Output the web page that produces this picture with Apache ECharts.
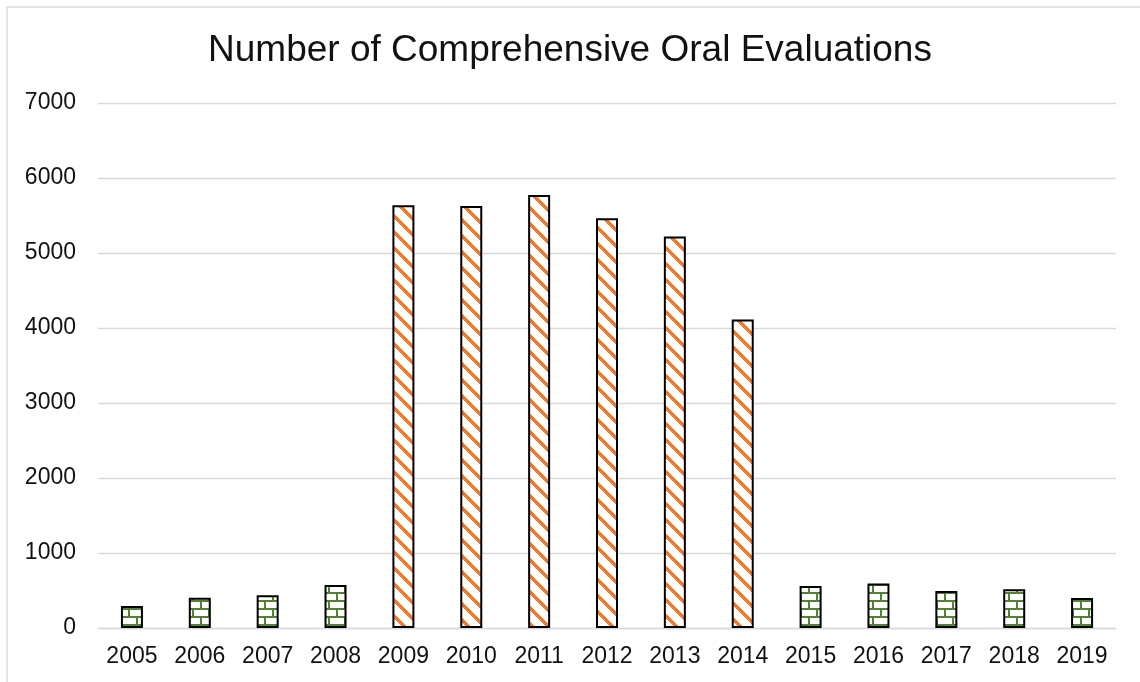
<!DOCTYPE html>
<html>
<head>
<meta charset="utf-8">
<script src="https://cdn.jsdelivr.net/npm/echarts@6/dist/echarts.min.js"></script>
<style>
html,body{margin:0;padding:0;background:#fff;}
#chart{width:1140px;height:682px;}
</style>
</head>
<body>
<div id="chart"></div>
<script>
var years = ['2005','2006','2007','2008','2009','2010','2011','2012','2013','2014','2015','2016','2017','2018','2019'];
var greenValues = [295, 405, 436, 573, '-', '-', '-', '-', '-', '-', 560, 592, 493, 516, 400];
var orangeValues = ['-', '-', '-', '-', 5636, 5627, 5773, 5463, 5219, 4112, '-', '-', '-', '-', '-'];
var yTicks = [0, 1000, 2000, 3000, 4000, 5000, 6000, 7000];

function brickPattern() {
  var c = document.createElement('canvas');
  c.width = 16; c.height = 16;
  var g = c.getContext('2d');
  g.fillStyle = '#ffffff'; g.fillRect(0, 0, 16, 16);
  g.fillStyle = '#548235';
  g.fillRect(0, 0, 16, 2);
  g.fillRect(0, 8, 16, 2);
  g.fillRect(0, 0, 2, 8);
  g.fillRect(8, 8, 2, 8);
  return c;
}
function stripePattern() {
  var c = document.createElement('canvas');
  c.width = 16; c.height = 16;
  var g = c.getContext('2d');
  g.fillStyle = '#ffffff'; g.fillRect(0, 0, 16, 16);
  g.fillStyle = '#ED7D31';
  for (var y = 0; y < 16; y++) {
    for (var x = 0; x < 16; x++) {
      var d = ((x - y) % 16 + 16) % 16;
      if (d < 5) g.fillRect(x, y, 1, 1);
    }
  }
  return c;
}

var chart = echarts.init(document.getElementById('chart'), null, {renderer: 'canvas', devicePixelRatio: 1});
var fontFam = '"Liberation Sans", Arial, sans-serif';
chart.setOption({
  animation: false,
  backgroundColor: '#ffffff',
  title: {
    text: 'Number of Comprehensive Oral Evaluations',
    left: 'center',
    top: 32,
    padding: 0,
    textStyle: {fontFamily: fontFam, fontSize: 37, fontWeight: 'normal', color: '#111'}
  },
  graphic: [{
    type: 'rect',
    shape: {x: 7, y: 7, width: 1300, height: 900},
    style: {fill: 'none', stroke: '#d9d9d9', lineWidth: 1.3},
    silent: true
  }],
  grid: {left: 98, right: 24, top: 103, bottom: 54, containLabel: false},
  xAxis: {
    type: 'category',
    data: years,
    axisLine: {show: true, lineStyle: {color: '#d9d9d9', width: 1.3}},
    axisTick: {show: false},
    axisLabel: {fontFamily: fontFam, fontSize: 23, color: '#111', margin: 17}
  },
  yAxis: {
    type: 'value',
    min: yTicks[0],
    max: yTicks[yTicks.length - 1],
    interval: 1000,
    axisLine: {show: false},
    axisTick: {show: false},
    splitLine: {lineStyle: {color: '#d9d9d9', width: 1.3}},
    axisLabel: {fontFamily: fontFam, fontSize: 23, color: '#111', margin: 22, formatter: function (v) { return String(v); }}
  },
  series: [{
    type: 'bar',
    stack: 'all',
    data: greenValues,
    barWidth: 22,
    itemStyle: {color: {image: brickPattern(), repeat: 'repeat'}, borderColor: '#000', borderWidth: 2}
  }, {
    type: 'bar',
    stack: 'all',
    data: orangeValues,
    barWidth: 22,
    itemStyle: {color: {image: stripePattern(), repeat: 'repeat'}, borderColor: '#000', borderWidth: 2}
  }]
});
</script>
</body>
</html>
